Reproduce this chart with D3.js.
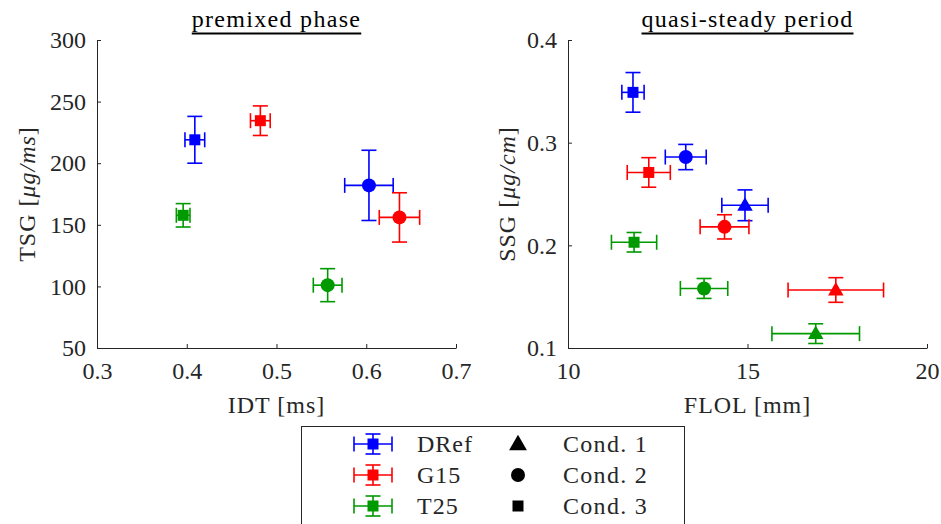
<!DOCTYPE html>
<html lang="en">
<head>
<meta charset="UTF-8">
<title>Soot mass: premixed vs quasi-steady</title>
<style>
  body { margin: 0; background: #fff; }
  svg text { font-family: "Liberation Serif", "Times New Roman", serif; fill: #262626; }
  .axis path, .axis line { stroke: #262626; stroke-width: 1; }
  .axis text { font-size: 24px; }
</style>
</head>
<body>
<svg id="chart" width="941" height="524"></svg>
<script src="https://cdnjs.cloudflare.com/ajax/libs/d3/7.8.5/d3.min.js"></script>
<script>
// series / legend
const fuels = ["DRef", "G15", "T25"];
const fuelColors = ["#0000ff", "#ff0000", "#009900"];
const conditions = ["Cond. 1", "Cond. 2", "Cond. 3"];
const conditionShapes = ["triangle", "circle", "square"];

// premixed phase (rows = fuel, cols = condition; Cond. 1 missing)
const idt    = [[null, 0.603, 0.409], [null, 0.637, 0.482], [null, 0.557, 0.396]];
const idtErr = [[null, 0.027, 0.011], [null, 0.0225, 0.011], [null, 0.016, 0.0076]];
const tsg    = [[null, 182, 219], [null, 156, 234.5], [null, 101, 157.7]];
const tsgErr = [[null, 28.5, 19], [null, 20, 12], [null, 13.4, 9.5]];

// quasi-steady period
const flol    = [[14.93, 13.28, 11.81], [17.46, 14.36, 12.25], [16.90, 13.79, 11.84]];
const flolErr = [[0.645, 0.57, 0.31], [1.33, 0.68, 0.6], [1.22, 0.66, 0.63]];
const ssg     = [[0.239, 0.286, 0.349], [0.1565, 0.218, 0.271], [0.114, 0.158, 0.203]];
const ssgErr  = [[0.015, 0.0123, 0.0193], [0.012, 0.0118, 0.0144], [0.0096, 0.0097, 0.0095]];

// axis ticks
const idtTicks  = [0.3, 0.4, 0.5, 0.6, 0.7];
const tsgTicks  = [50, 100, 150, 200, 250, 300];
const flolTicks = [10, 15, 20];
const ssgTicks  = [0.1, 0.2, 0.3, 0.4];

const svg = d3.select("#chart");
const capHalf = 7.5;

function marker(g, shape, cx, cy, color, big) {
  const k = big ? 1.15 : 1;
  if (shape === "square") {
    const s = 11 * k;
    g.append("rect").attr("x", cx - s / 2).attr("y", cy - s / 2)
      .attr("width", s).attr("height", s).attr("fill", color);
  } else if (shape === "circle") {
    g.append("circle").attr("cx", cx).attr("cy", cy).attr("r", 7 * k).attr("fill", color);
  } else {
    const w = 15.5 * k, h = 13.5 * k;
    g.append("path")
      .attr("d", `M${cx},${cy - h * 0.6}L${cx + w / 2},${cy + h * 0.4}L${cx - w / 2},${cy + h * 0.4}Z`)
      .attr("fill", color);
  }
}

function errorCross(g, x0, x1, xc, y0, y1, yc, color) {
  const lines = [
    [x0, yc, x1, yc], [x0, yc - capHalf, x0, yc + capHalf], [x1, yc - capHalf, x1, yc + capHalf],
    [xc, y0, xc, y1], [xc - capHalf, y0, xc + capHalf, y0], [xc - capHalf, y1, xc + capHalf, y1]
  ];
  lines.forEach(l => g.append("line")
    .attr("x1", l[0]).attr("y1", l[1]).attr("x2", l[2]).attr("y2", l[3])
    .attr("stroke", color).attr("stroke-width", 1.6));
}

function panel(opts) {
  const x = d3.scaleLinear().domain(opts.xDomain).range([opts.left, opts.right]);
  const y = d3.scaleLinear().domain(opts.yDomain).range([348, 40]);

  svg.append("g").attr("class", "axis").attr("transform", "translate(0,348)")
    .call(d3.axisBottom(x).tickValues(opts.xTicks).tickFormat(opts.xFmt)
      .tickSizeInner(-4).tickSizeOuter(0).tickPadding(14));
  svg.append("g").attr("class", "axis").attr("transform", `translate(${opts.left},0)`)
    .call(d3.axisLeft(y).tickValues(opts.yTicks).tickFormat(opts.yFmt)
      .tickSizeInner(-4).tickSizeOuter(0).tickPadding(11));

  const cx = (opts.left + opts.right) / 2;
  // x label
  svg.append("text").attr("x", cx).attr("y", 413).attr("text-anchor", "middle")
    .attr("font-size", 24).style("letter-spacing", "1px").text(opts.xLabel);
  // y label
  const yl = svg.append("text").attr("transform", `translate(${opts.yLabelX},194) rotate(-90)`)
    .attr("text-anchor", "middle").attr("font-size", 24).style("letter-spacing", "1px");
  yl.append("tspan").text(opts.yLabel + " [");
  yl.append("tspan").attr("font-style", "italic").text(opts.yUnit);
  yl.append("tspan").text("]");
  // title
  const t = svg.append("text").attr("x", cx).attr("y", 27).attr("text-anchor", "middle")
    .attr("font-size", 24).style("letter-spacing", "1.3px").style("fill", "#000").text(opts.title);
  const bb = t.node().getBBox();
  svg.append("line").attr("x1", bb.x).attr("x2", bb.x + bb.width)
    .attr("y1", 33.5).attr("y2", 33.5).attr("stroke", "#000").attr("stroke-width", 2);

  const g = svg.append("g");
  fuels.forEach((f, i) => {
    conditions.forEach((c, j) => {
      const xv = opts.xs[i][j], yv = opts.ys[i][j];
      if (xv == null) return;
      const xe = opts.xe[i][j], ye = opts.ye[i][j];
      errorCross(g, x(xv - xe), x(xv + xe), x(xv), y(yv + ye), y(yv - ye), y(yv), fuelColors[i]);
      marker(g, conditionShapes[j], x(xv), y(yv), fuelColors[i]);
    });
  });
}

panel({
  left: 97, right: 456, xDomain: [0.3, 0.7], yDomain: [50, 300],
  xTicks: idtTicks, yTicks: tsgTicks, xFmt: d3.format(".1f"), yFmt: d3.format("d"),
  xLabel: "IDT [ms]", yLabel: "TSG", yUnit: "μg/ms", yLabelX: 35,
  title: "premixed phase", xs: idt, ys: tsg, xe: idtErr, ye: tsgErr
});
panel({
  left: 568, right: 927, xDomain: [10, 20], yDomain: [0.1, 0.4],
  xTicks: flolTicks, yTicks: ssgTicks, xFmt: d3.format("d"), yFmt: d3.format(".1f"),
  xLabel: "FLOL [mm]", yLabel: "SSG", yUnit: "μg/cm", yLabelX: 515,
  title: "quasi-steady period", xs: flol, ys: ssg, xe: flolErr, ye: ssgErr
});

// legend
const lg = svg.append("g");
lg.append("rect").attr("x", 301.5).attr("y", 426.5).attr("width", 383).attr("height", 110)
  .attr("fill", "#fff").attr("stroke", "#262626").attr("stroke-width", 1);
const rowY = d3.scalePoint().domain(fuels).range([444, 506]);
fuels.forEach((f, i) => {
  const yc = rowY(f);
  errorCross(lg, 354, 392, 373, yc - 10, yc + 10, yc, fuelColors[i]);
  marker(lg, "square", 373, yc, fuelColors[i]);
  lg.append("text").attr("x", 417).attr("y", yc + 8).attr("font-size", 24)
    .style("letter-spacing", "1px").text(f);
});
conditions.forEach((c, j) => {
  const yc = rowY(fuels[j]);
  marker(lg, conditionShapes[j], 518, yc, "#000", j === 0);
  lg.append("text").attr("x", 563).attr("y", yc + 8).attr("font-size", 24)
    .style("letter-spacing", "1.3px").text(c);
});
</script>
</body>
</html>
